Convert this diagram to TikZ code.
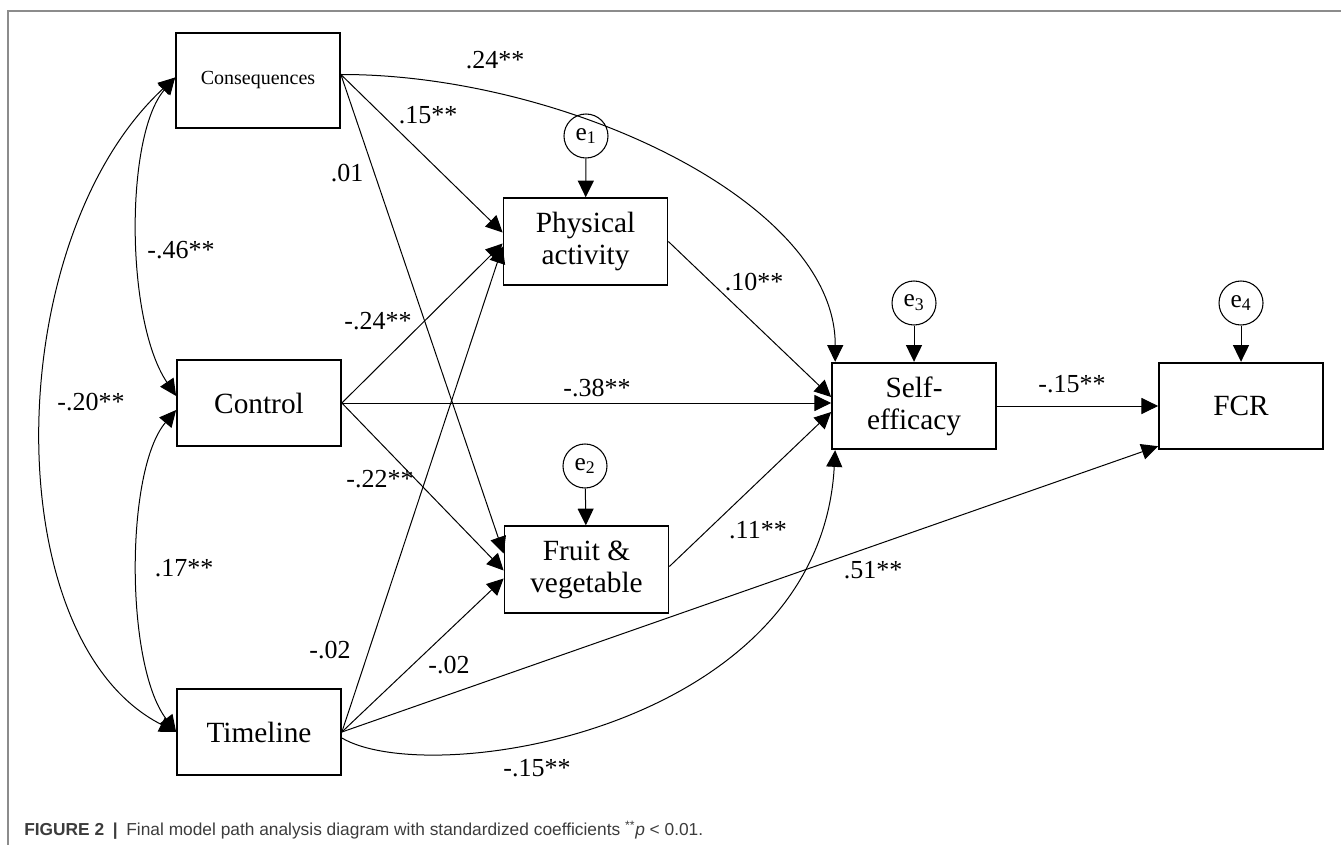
\documentclass[tikz,border=0pt]{standalone}
\usepackage{fontspec}
\setmainfont{Liberation Serif}
\newfontfamily\capfont{Liberation Sans}
\usetikzlibrary{arrows.meta,calc}

\tikzset{
  var/.style={draw,line width=1.3pt,minimum width=123pt,minimum height=65pt,inner sep=0pt,align=center,font=\fontsize{22}{24}\selectfont},
  err/.style={draw,circle,line width=0.8pt,minimum size=33pt,inner sep=0pt,font=\fontsize{19}{20}\selectfont},
  path/.style={line width=0.75pt,-{Triangle[length=12.5pt,width=12pt]}},
  cov/.style={line width=0.75pt,{Triangle[length=12.5pt,width=12pt]}-{Triangle[length=12.5pt,width=12pt]}},
  coef/.style={inner sep=0pt,font=\fontsize{19.5}{21}\selectfont},
}

\begin{document}
\begin{tikzpicture}[x=0.75pt,y=0.75pt,yscale=-1,xscale=1]
\useasboundingbox (0,0) rectangle (1341,845);

%Frame
\draw [color={rgb, 255:red, 140; green, 140; blue, 140 },line width=0.8pt] (8,845) -- (8,11) -- (1341,11) ;

%Observed variables
\node [var,minimum height=71pt,font=\fontsize{15}{17}\selectfont] (cons) at (258,80.5) {Consequences};
\node [var] (ctrl) at (259,403) {Control};
\node [var] (time) at (259,732) {Timeline};
\node [var] (pa) at (585.5,241.5) {Physical\\activity};
\node [var] (fv) at (586.5,569.5) {Fruit \&\\vegetable};
\node [var] (se) at (914,406) {Self-\\efficacy};
\node [var] (fcr) at (1241,406) {FCR};

%Error terms
\node [err] (e1) at (586,136) {e\textsubscript{1}};
\node [err] (e2) at (585,466) {e\textsubscript{2}};
\node [err] (e3) at (914,303) {e\textsubscript{3}};
\node [err] (e4) at (1241,303) {e\textsubscript{4}};
\draw [path] (e1) -- (pa) ;
\draw [path] (e2) -- (fv) ;
\draw [path] (e3) -- (se) ;
\draw [path] (e4) -- (fcr) ;

%Covariances
\draw [cov] ($(cons.west)+(0,-3)$) .. controls (125,135) and (125,320) .. ($(ctrl.west)+(0,-7)$) ;
\draw [cov] ($(ctrl.west)+(0,7)$) .. controls (125,470) and (125,665) .. (time.west) ;
\draw [cov] ($(cons.west)+(0,-3)$) .. controls (0,240) and (-5,640) .. (time.west) ;

%Paths from Consequences
\coordinate (consOut) at ($(cons.east)+(0,-6)$);
\draw [path] (consOut) -- ($(pa.west)+(0,-9)$) ;
\draw [path] (consOut) -- ($(fv.west)+(0,-16)$) ;
\draw [path] (consOut) .. controls (560,74) and (836,200) .. ($(se.north west)+(4,0)$) ;

%Paths from Control
\draw [path] (ctrl.east) -- ($(pa.west)+(0,2)$) ;
\draw [path] (ctrl.east) -- (ctrl.east -| se.west) ;
\draw [path] (ctrl.east) -- ($(fv.west)+(0,1)$) ;

%Paths from Timeline
\draw [path] (time.east) -- ($(pa.west)+(0,5)$) ;
\draw [path] (time.east) -- ($(fv.west)+(0,9)$) ;
\draw [path] (time.east) -- ($(fcr.south west)+(0,-4)$) ;
\draw [path] ($(time.east)+(0,6)$) .. controls (430,790) and (820,730) .. ($(se.south west)+(4,0)$) ;

%Mediators
\draw [path] (pa.east) -- ($(se.west)+(0,-9)$) ;
\draw [path] ($(fv.east)+(0,-3)$) -- ($(se.west)+(0,6)$) ;
\draw [path] (se.east) -- (fcr.west) ;

% Text Node
\node [coef] (c1) at (495,60) {.24**};
\node [coef] (c2) at (428,115) {.15**};
\node [coef] (c3) at (347,173) {.01};
\node [coef] (c4) at (181,250) {-.46**};
\node [coef] (c5) at (378,321) {-.24**};
\node [coef] (c6) at (91,402) {-.20**};
\node [coef] (c7) at (597,388) {-.38**};
\node [coef] (c8) at (754,282) {.10**};
\node [coef] (c9) at (1072,384) {-.15**};
\node [coef] (c10) at (380,479) {-.22**};
\node [coef] (c11) at (758,530) {.11**};
\node [coef] (c12) at (184,568) {.17**};
\node [coef] (c13) at (873,570) {.51**};
\node [coef] (c14) at (330,650) {-.02};
\node [coef] (c15) at (449,665) {-.02};
\node [coef] (c16) at (537,768) {-.15**};

% Caption
\node [anchor=base west,inner sep=0pt,text={rgb,255:red,60;green,60;blue,60},font=\capfont\fontsize{13}{15}\selectfont] (cap) at (24,835) {\textbf{FIGURE 2}\enspace\textbf{|}\enspace Final model path analysis diagram with standardized coefficients \textsuperscript{**}\textit{p} < 0.01.};
\end{tikzpicture}
\end{document}
